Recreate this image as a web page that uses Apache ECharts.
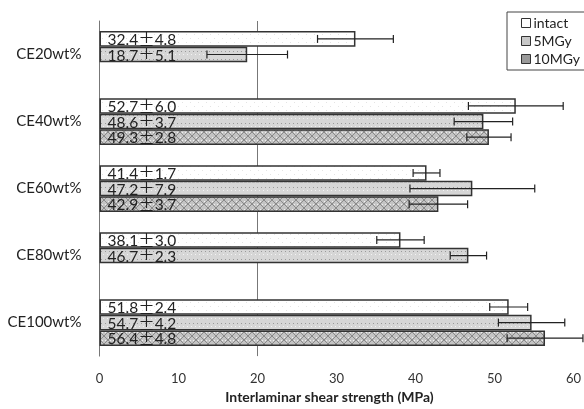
<!DOCTYPE html>
<html><head><meta charset="utf-8">
<script src="https://cdn.jsdelivr.net/npm/echarts@6/dist/echarts.min.js"></script>
<style>html,body{margin:0;padding:0;background:#fff}#c{width:584px;height:409px}</style>
</head><body><div id="c"></div>
<script>
var categories = ['CE20wt%', 'CE40wt%', 'CE60wt%', 'CE80wt%', 'CE100wt%'];
var seriesNames = ['intact', '5MGy', '10MGy'];
var intact = [32.4, 52.7, 41.4, 38.1, 51.8];
var intactErr = [4.8, 6.0, 1.7, 3.0, 2.4];
var mgy5 = [18.7, 48.6, 47.2, 46.7, 54.7];
var mgy5Err = [5.1, 3.7, 7.9, 2.3, 4.2];
var mgy10 = [null, 49.3, 42.9, null, 56.4];
var mgy10Err = [null, 2.8, 3.7, null, 4.8];
var xTicks = [0, 10, 20, 30, 40, 50, 60];

function pattern(bg, draw) {
  var c = document.createElement('canvas'); c.width = 8; c.height = 8;
  var g = c.getContext('2d'); g.fillStyle = bg; g.fillRect(0, 0, 8, 8); draw(g); return c;
}
var p0 = pattern('#ffffff', function (g) { g.fillStyle = '#e4e4e4'; g.fillRect(2, 2, 1, 1); g.fillRect(6, 6, 1, 1); });
var p1 = pattern('#d6d6d6', function (g) { g.fillStyle = '#9a9a9a'; g.fillRect(1, 3, 1, 1); g.fillRect(5, 3, 1, 1); g.fillStyle = '#f2f2f2'; g.fillRect(3, 6, 1, 1); g.fillRect(7, 6, 1, 1); });
var p2 = pattern('#c4c4c4', function (g) {
  g.fillStyle = '#8a8a8a';
  for (var i = 0; i < 8; i++) { g.fillRect(i, i, 1, 1); g.fillRect(7 - i, i, 1, 1); }
  g.fillStyle = '#eeeeee'; g.fillRect(4, 1, 1, 1); g.fillRect(1, 4, 1, 1); g.fillRect(6, 4, 1, 1);
});
var fills = [{ image: p0, repeat: 'repeat' }, { image: p1, repeat: 'repeat' }, { image: p2, repeat: 'repeat' }];
var legendColors = ['#ffffff', '#c8c8c8', '#9a9a9a'];
var vals = [intact, mgy5, mgy10];
var errs = [intactErr, mgy5Err, mgy10Err];
var BW = 15.6;

var chart = echarts.init(document.getElementById('c'), null, { renderer: 'canvas' });
var FONT = 'Lato, "Noto Sans", sans-serif';
var CJK = '"Noto Sans CJK JP", sans-serif';

var series = [];
for (var s = 0; s < 3; s++) {
  (function (s) {
    series.push({
      name: seriesNames[s], type: 'bar', barWidth: BW, barGap: '0%',
      data: vals[s].map(function (v) { return v == null ? '-' : v; }),
      itemStyle: { color: fills[s], borderColor: '#333', borderWidth: 1.5 },
      label: {
        show: true, position: 'insideLeft', distance: 8, color: '#222',
        fontFamily: FONT, fontSize: 15.5, padding: [2, 0, 0, 0],
        rich: { pm: { fontFamily: CJK, fontSize: 16.5, color: '#222' } },
        formatter: function (p) { return vals[s][p.dataIndex].toFixed(1) + '{pm|±}' + errs[s][p.dataIndex].toFixed(1); }
      },
      z: 2
    });
  })(s);
}
var errData = [];
for (var s2 = 0; s2 < 3; s2++) {
  for (var i = 0; i < categories.length; i++) {
    if (vals[s2][i] == null) continue;
    errData.push([vals[s2][i] - errs[s2][i], i, vals[s2][i] + errs[s2][i], s2]);
  }
}
series.push({
  type: 'custom', name: 'err', silent: true, z: 5,
  data: errData,
  encode: { x: [0, 2], y: 1 },
  renderItem: function (params, api) {
    var lo = api.value(0), cat = api.value(1), hi = api.value(2), si = api.value(3);
    var pl = api.coord([lo, cat]), ph = api.coord([hi, cat]);
    var y = pl[1] + (si - 1) * BW;
    var st = { stroke: '#222', lineWidth: 1.2 };
    return { type: 'group', children: [
      { type: 'line', shape: { x1: pl[0], y1: y, x2: ph[0], y2: y }, style: st },
      { type: 'line', shape: { x1: pl[0], y1: y - 4, x2: pl[0], y2: y + 4 }, style: st },
      { type: 'line', shape: { x1: ph[0], y1: y - 4, x2: ph[0], y2: y + 4 }, style: st }
    ] };
  }
});

chart.setOption({
  animation: false,
  backgroundColor: '#fff',
  textStyle: { fontFamily: FONT },
  grid: { left: 99.5, right: 5, top: 21, bottom: 45, containLabel: false },
  legend: {
    data: seriesNames.map(function (n, k) { return { name: n, itemStyle: { color: legendColors[k], borderColor: '#333', borderWidth: 1 } }; }),
    orient: 'vertical', left: 507, top: 12,
    icon: 'rect', itemWidth: 9, itemHeight: 9, itemGap: 4,
    borderColor: '#444', borderWidth: 1, padding: [4, 12, 4, 14],
    textStyle: { fontFamily: FONT, fontSize: 14, color: '#222', padding: [0, 0, 0, -2] }
  },
  xAxis: {
    type: 'value', min: 0, max: 60, interval: 10,
    name: 'Interlaminar shear strength (MPa)', nameLocation: 'middle', nameGap: 30,
    nameTextStyle: { fontFamily: FONT, fontSize: 14, fontWeight: 'bold', color: '#222', padding: [0, 14, 0, 0] },
    axisLine: { show: false }, axisTick: { show: false },
    axisLabel: { fontFamily: FONT, fontSize: 13, color: '#333', margin: 16,
      formatter: function (v) { return xTicks.indexOf(v) >= 0 ? String(v) : ''; } },
    splitLine: { show: true, lineStyle: { color: ['rgba(0,0,0,0)', 'rgba(0,0,0,0)', '#777', 'rgba(0,0,0,0)', 'rgba(0,0,0,0)', 'rgba(0,0,0,0)', 'rgba(0,0,0,0)'], width: 1 } }
  },
  yAxis: {
    type: 'category', data: categories, inverse: true,
    axisLine: { show: true, lineStyle: { color: '#777', width: 1 } },
    axisTick: { show: false },
    axisLabel: { fontFamily: FONT, fontSize: 15, color: '#222', margin: 18, padding: [0, 0, 7, 0] }
  },
  series: series
});
</script></body></html>
